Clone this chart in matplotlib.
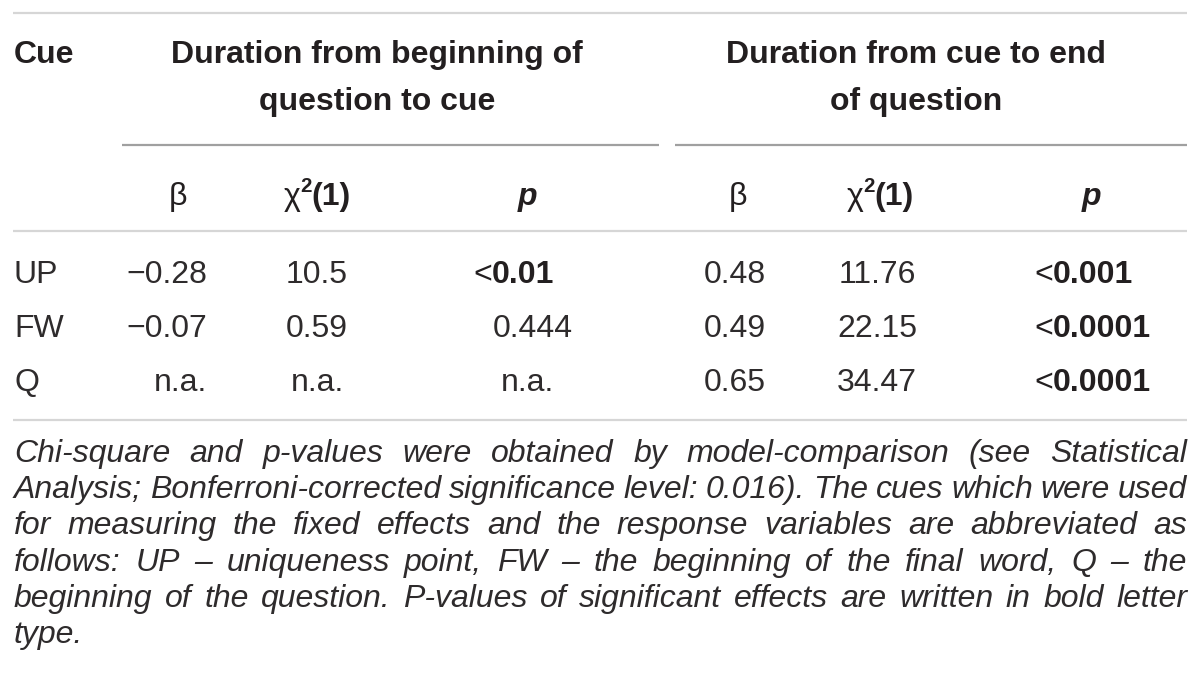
import matplotlib
matplotlib.use("Agg")
import matplotlib.pyplot as plt

# ---- table content ----
GROUP_HEADERS = [["Duration from beginning of", "question to cue"],
                 ["Duration from cue to end", "of question"]]
CUES = ["UP", "FW", "Q"]
BETA_1 = ["\u22120.28", "\u22120.07", "n.a."]
CHI_1 = ["10.5", "0.59", "n.a."]
P_1 = ["<0.01", "0.444", "n.a."]
SIG_1 = [True, False, False]
BETA_2 = ["0.48", "0.49", "0.65"]
CHI_2 = ["11.76", "22.15", "34.47"]
P_2 = ["<0.001", "<0.0001", "<0.0001"]
SIG_2 = [True, True, True]
CAPTION = [
    "Chi-square and p-values were obtained by model-comparison (see Statistical",
    "Analysis; Bonferroni-corrected significance level: 0.016). The cues which were used",
    "for measuring the fixed effects and the response variables are abbreviated as",
    "follows: UP \u2013 uniqueness point, FW \u2013 the beginning of the final word, Q \u2013 the",
    "beginning of the question. P-values of significant effects are written in bold letter",
    "type.",
]

FONT = "Liberation Sans"
TXT = "#231f20"
BODY = "#2e2b2c"
FS_HEAD = 23
FS = 23
FS_CAP = 23

fig = plt.figure(figsize=(12, 6.94), dpi=100)
ax = fig.add_axes([0, 0, 1, 1])
ax.set_xlim(0, 1200)
ax.set_ylim(694, 0)
ax.axis("off")
renderer = fig.canvas.get_renderer()


def width(s, size=FS, weight="normal", style="normal"):
    t = ax.text(0, 0, s, fontsize=size, family=FONT, weight=weight, style=style)
    w = t.get_window_extent(renderer).width
    t.remove()
    return w


def runs(x, y, parts, ha="center", color=BODY):
    # parts: list of (text, weight, size, dy, style)
    ws = [width(p[0], size=p[2], weight=p[1], style=p[4]) for p in parts]
    total = sum(ws)
    x0 = x - total / 2 if ha == "center" else (x - total if ha == "right" else x)
    for (s, wt, sz, dy, st), w in zip(parts, ws):
        ax.text(x0, y + dy, s, fontsize=sz, family=FONT, weight=wt, style=st,
                color=color, va="baseline", ha="left")
        x0 += w


def cell(x, y, s, ha="center"):
    runs(x, y, [(s, "normal", FS, 0, "normal")], ha=ha)


def hline(y, x0, x1, color, lw=1.6):
    ax.plot([x0, x1], [y, y], color=color, lw=lw, solid_capstyle="butt")


# rules
hline(13, 13, 1187, "#d6d6d6")
hline(145, 122, 659, "#a0a0a0")
hline(145, 675, 1187, "#a0a0a0")
hline(231, 13, 1187, "#d6d6d6")
hline(420, 13, 1187, "#d6d6d6")

# header
ax.text(14, 63, "Cue", fontsize=FS_HEAD, family=FONT, weight="bold", color=TXT,
        va="baseline")
for cx, lines in zip([377, 916], GROUP_HEADERS):
    for k, line in enumerate(lines):
        ax.text(cx, 63 + 47 * k, line, fontsize=FS_HEAD, family=FONT, weight="bold",
                color=TXT, va="baseline", ha="center")

chi_parts = [("\u03c7", "normal", FS_HEAD, 0, "normal"),
             ("2", "bold", FS_HEAD * 0.64, -13, "normal"),
             ("(1)", "bold", FS_HEAD, 0, "normal")]
for bx, cx, px in [(178, 317, 527), (738, 880, 1091)]:
    runs(bx, 205, [("\u03b2", "normal", FS_HEAD, 0, "normal")], color=TXT)
    runs(cx, 205, chi_parts, color=TXT)
    ax.text(px, 205, "p", fontsize=FS_HEAD, family=FONT, weight="bold", style="italic",
            color=TXT, va="baseline", ha="center")

# body
row_base = [283, 337, 391]


def p_cell(x_dec, x_mid, y, s, sig):
    if s == "n.a.":
        cell(x_mid, y, s)
        return
    wt = "bold" if sig else "normal"
    if s.startswith("<"):
        parts = [("<", "normal", FS, 0, "normal"), (s[1:], wt, FS, 0, "normal")]
        head = width("<") + width(s[1:].split(".")[0], weight=wt)
    else:
        parts = [(s, wt, FS, 0, "normal")]
        head = width(s.split(".")[0], weight=wt)
    runs(x_dec - head, y, parts, ha="left", color=TXT if sig else BODY)


for i, y in enumerate(row_base):
    ax.text(14, y, CUES[i], fontsize=FS, family=FONT, color=BODY, va="baseline")
    cell(207, y, BETA_1[i], ha="right")
    cell(317, y, CHI_1[i])
    p_cell(510, 527, y, P_1[i], SIG_1[i])
    cell(735, y, BETA_2[i])
    cell(877, y, CHI_2[i])
    p_cell(1071, 1091, y, P_2[i], SIG_2[i])

# justified italic caption
x_left, x_right = 14, 1187
for k, line in enumerate(CAPTION):
    y = 462 + 36.2 * k
    words = line.split(" ")
    size = FS_CAP
    ws = [width(w, size=size, style="italic") for w in words]
    space = width("a a", size=size, style="italic") - width("aa", size=size, style="italic")
    while sum(ws) + space * 0.6 * (len(words) - 1) > x_right - x_left:
        size -= 0.25
        ws = [width(w, size=size, style="italic") for w in words]
    if k == len(CAPTION) - 1:
        gap = space
    else:
        gap = (x_right - x_left - sum(ws)) / (len(words) - 1)
    x = x_left
    for w, wd in zip(words, ws):
        ax.text(x, y, w, fontsize=size, family=FONT, style="italic", color=BODY,
                va="baseline")
        x += wd + gap

fig.savefig("out.png", dpi=100, facecolor="white")
